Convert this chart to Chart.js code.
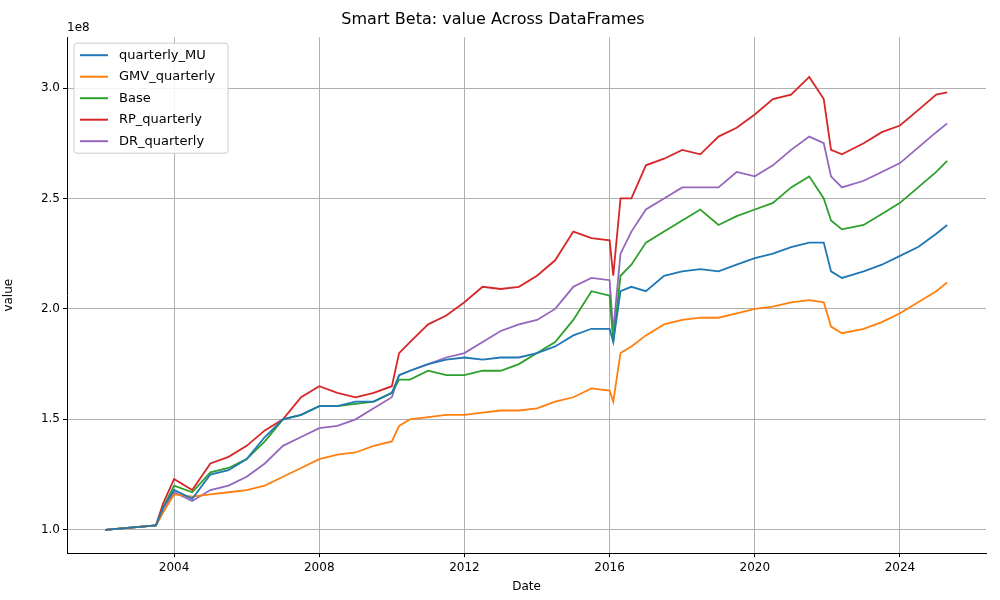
<!DOCTYPE html>
<html>
<head>
<meta charset="utf-8">
<script src="https://cdn.jsdelivr.net/npm/chart.js@4"></script>
<style>
  body { margin: 0; background: #fff; }
</style>
</head>
<body>
<canvas id="chart" width="1000" height="600"></canvas>
<script>
// dates (decimal years) and values (units of 1e8)
const dates = [2002.1, 2003.5, 2003.7, 2004.0, 2004.5, 2005.0, 2005.5, 2006.0, 2006.5, 2007.0,
  2007.5, 2008.0, 2008.5, 2009.0, 2009.5, 2010.0, 2010.2, 2010.5, 2011.0, 2011.5,
  2012.0, 2012.5, 2013.0, 2013.5, 2014.0, 2014.5, 2015.0, 2015.5, 2016.0, 2016.1,
  2016.3, 2016.6, 2017.0, 2017.5, 2018.0, 2018.5, 2019.0, 2019.5, 2020.0, 2020.5,
  2021.0, 2021.5, 2021.9, 2022.1, 2022.4, 2023.0, 2023.5, 2024.0, 2024.5, 2025.0, 2025.3];

const quarterlyMU = [1.0, 1.02, 1.10, 1.18, 1.14, 1.25, 1.27, 1.32, 1.42, 1.50,
  1.52, 1.56, 1.56, 1.58, 1.58, 1.62, 1.70, 1.72, 1.75, 1.77,
  1.78, 1.77, 1.78, 1.78, 1.80, 1.83, 1.88, 1.91, 1.91, 1.85,
  2.08, 2.10, 2.08, 2.15, 2.17, 2.18, 2.17, 2.20, 2.23, 2.25,
  2.28, 2.30, 2.30, 2.17, 2.14, 2.17, 2.20, 2.24, 2.28, 2.34, 2.38];

const gmvQuarterly = [1.0, 1.02, 1.08, 1.16, 1.15, 1.16, 1.17, 1.18, 1.20, 1.24,
  1.28, 1.32, 1.34, 1.35, 1.38, 1.40, 1.47, 1.50, 1.51, 1.52,
  1.52, 1.53, 1.54, 1.54, 1.55, 1.58, 1.60, 1.64, 1.63, 1.58,
  1.80, 1.83, 1.88, 1.93, 1.95, 1.96, 1.96, 1.98, 2.00, 2.01,
  2.03, 2.04, 2.03, 1.92, 1.89, 1.91, 1.94, 1.98, 2.03, 2.08, 2.12];

const base = [1.0, 1.02, 1.10, 1.20, 1.17, 1.26, 1.28, 1.32, 1.40, 1.50,
  1.52, 1.56, 1.56, 1.57, 1.58, 1.62, 1.68, 1.68, 1.72, 1.70,
  1.70, 1.72, 1.72, 1.75, 1.80, 1.85, 1.95, 2.08, 2.06, 1.85,
  2.15, 2.20, 2.30, 2.35, 2.40, 2.45, 2.38, 2.42, 2.45, 2.48,
  2.55, 2.60, 2.50, 2.40, 2.36, 2.38, 2.43, 2.48, 2.55, 2.62, 2.67];

const rpQuarterly = [1.0, 1.02, 1.12, 1.23, 1.18, 1.30, 1.33, 1.38, 1.45, 1.50,
  1.60, 1.65, 1.62, 1.60, 1.62, 1.65, 1.80, 1.85, 1.93, 1.97,
  2.03, 2.10, 2.09, 2.10, 2.15, 2.22, 2.35, 2.32, 2.31, 2.15,
  2.50, 2.50, 2.65, 2.68, 2.72, 2.70, 2.78, 2.82, 2.88, 2.95,
  2.97, 3.05, 2.95, 2.72, 2.70, 2.75, 2.80, 2.83, 2.90, 2.97, 2.98];

const drQuarterly = [1.0, 1.02, 1.08, 1.17, 1.13, 1.18, 1.20, 1.24, 1.30, 1.38,
  1.42, 1.46, 1.47, 1.50, 1.55, 1.60, 1.70, 1.72, 1.75, 1.78,
  1.80, 1.85, 1.90, 1.93, 1.95, 2.00, 2.10, 2.14, 2.13, 1.90,
  2.25, 2.35, 2.45, 2.50, 2.55, 2.55, 2.55, 2.62, 2.60, 2.65,
  2.72, 2.78, 2.75, 2.60, 2.55, 2.58, 2.62, 2.66, 2.73, 2.80, 2.84];

const seriesNames = ["quarterly_MU", "GMV_quarterly", "Base", "RP_quarterly", "DR_quarterly"];
const seriesValues = [quarterlyMU, gmvQuarterly, base, rpQuarterly, drQuarterly];
const colors = ["#1f77b4", "#ff7f0e", "#2ca02c", "#d62728", "#9467bd"];

const datasets = seriesNames.map((name, i) => ({
  label: name,
  data: dates.map((d, j) => ({ x: d, y: seriesValues[i][j] })),
  borderColor: colors[i],
  backgroundColor: colors[i],
  borderWidth: 1.8,
  pointRadius: 0,
  tension: 0
}));

const font = { family: "DejaVu Sans", size: 12 };

// legend box + "1e8" label, matplotlib style
const extras = {
  id: "extras",
  afterDraw(chart) {
    const ctx = chart.ctx;
    const a = chart.chartArea;
    ctx.save();
    ctx.font = "12px DejaVu Sans";
    ctx.fillStyle = "#000";
    ctx.textBaseline = "bottom";
    ctx.fillText("1e8", a.left, a.top - 3);

    const x0 = a.left + 7, y0 = a.top + 6, w = 154, h = 110;
    ctx.fillStyle = "rgba(255,255,255,0.85)";
    ctx.strokeStyle = "#ccc";
    ctx.lineWidth = 1;
    ctx.beginPath();
    ctx.roundRect(x0, y0, w, h, 3);
    ctx.fill();
    ctx.stroke();
    ctx.textBaseline = "middle";
    seriesNames.forEach((name, i) => {
      const y = y0 + 12 + i * 21.5;
      ctx.strokeStyle = colors[i];
      ctx.lineWidth = 2;
      ctx.beginPath();
      ctx.moveTo(x0 + 6, y);
      ctx.lineTo(x0 + 34, y);
      ctx.stroke();
      ctx.fillStyle = "#000";
      ctx.font = "13px DejaVu Sans";
      ctx.fillText(name, x0 + 45, y);
    });
    ctx.restore();
  }
};

new Chart(document.getElementById("chart"), {
  type: "line",
  data: { datasets: datasets },
  options: {
    responsive: false,
    animation: false,
    layout: { padding: { top: 0, right: 14, bottom: 4, left: 0 } },
    plugins: {
      legend: { display: false },
      tooltip: { enabled: false },
      title: {
        display: true,
        text: "Smart Beta: value Across DataFrames",
        font: { family: "DejaVu Sans", size: 16, weight: "normal" },
        color: "#000",
        padding: { top: 10, bottom: 8 }
      }
    },
    scales: {
      x: {
        type: "linear",
        min: 2001.05,
        max: 2026.37,
        afterBuildTicks: (s) => { s.ticks = [2004, 2008, 2012, 2016, 2020, 2024].map(v => ({ value: v })); },
        ticks: { font: font, color: "#000", callback: (v) => String(v), maxRotation: 0 },
        grid: { color: "#b0b0b0", tickColor: "#000", tickLength: 4 },
        border: { color: "#000" },
        title: { display: true, text: "Date", font: font, color: "#000", padding: 2 }
      },
      y: {
        min: 0.894,
        max: 3.23,
        afterBuildTicks: (s) => { s.ticks = [1.0, 1.5, 2.0, 2.5, 3.0].map(v => ({ value: v })); },
        afterFit: (s) => { s.width = 67; },
        ticks: { font: font, color: "#000", callback: (v) => v.toFixed(1) },
        grid: { color: "#b0b0b0", tickColor: "#000", tickLength: 4 },
        border: { color: "#000" },
        title: { display: true, text: "value", font: font, color: "#000", padding: 2 }
      }
    }
  },
  plugins: [extras]
});
</script>
</body>
</html>
